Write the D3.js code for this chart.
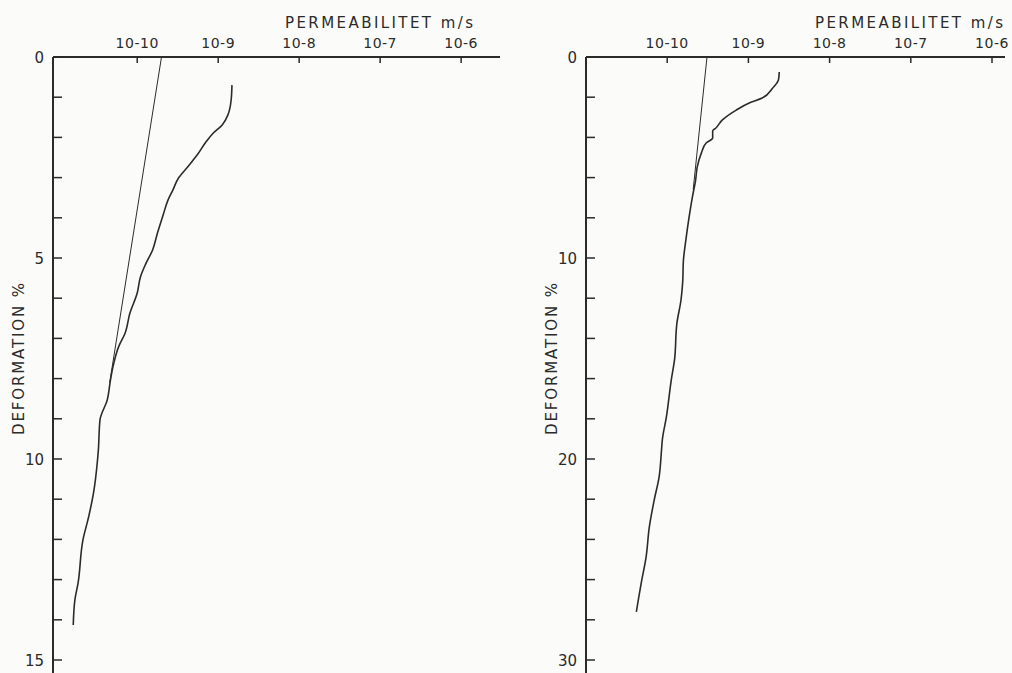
<!DOCTYPE html>
<html>
<head>
<meta charset="utf-8">
<script src="https://cdn.jsdelivr.net/npm/d3@7"></script>
<style>
  body { margin: 0; background: #fbfbf9; }
  svg { display: block; }
  text { font-family: "DejaVu Sans", sans-serif; fill: #2b2b2b; }
</style>
</head>
<body>
<svg></svg>
<script>
const width = 1012;
const height = 673;

// decade tick labels on the permeability axis
const permTicks = [-10, -9, -8, -7, -6];
const permLabels = ['10-10', '10-9', '10-8', '10-7', '10-6'];

// LEFT PANEL: deformation % and log10 permeability (m/s)
const leftDeform = [0.70, 1.07, 1.44, 1.69, 1.89, 2.14, 2.44, 2.74, 3.01, 3.31, 3.56, 3.93, 4.38, 4.80, 5.17, 5.47, 5.87, 6.37, 6.87, 7.21, 7.71, 8.03, 8.53, 9.03, 9.78, 10.02, 10.85, 11.44, 12.01, 13.08, 13.51, 14.13];
const leftPerm = [-8.83, -8.84, -8.88, -8.95, -9.06, -9.16, -9.26, -9.38, -9.49, -9.56, -9.62, -9.68, -9.75, -9.81, -9.90, -9.96, -10.00, -10.09, -10.15, -10.23, -10.30, -10.33, -10.37, -10.46, -10.48, -10.49, -10.54, -10.60, -10.67, -10.73, -10.77, -10.79];
const leftLineDeform = [0, 8.1];
const leftLinePerm = [-9.70, -10.34];
const leftYTicks = [0, 5, 10, 15];

// RIGHT PANEL
const rightDeform = [0.75, 1.14, 1.54, 2.04, 2.29, 2.64, 3.13, 3.53, 3.68, 4.03, 4.28, 4.78, 5.47, 6.12, 6.97, 7.96, 9.10, 10.10, 11.24, 12.09, 13.23, 15.07, 16.07, 17.91, 19.05, 19.55, 20.90, 22.04, 23.38, 24.88, 26.17, 26.87, 27.61];
const rightPerm = [-8.62, -8.63, -8.70, -8.83, -8.99, -9.15, -9.32, -9.40, -9.44, -9.44, -9.52, -9.58, -9.63, -9.65, -9.69, -9.73, -9.77, -9.80, -9.81, -9.83, -9.88, -9.91, -9.95, -10.01, -10.06, -10.07, -10.10, -10.16, -10.22, -10.26, -10.32, -10.35, -10.38];
const rightLineDeform = [0, 6.6];
const rightLinePerm = [-9.51, -9.68];
const rightYTicks = [0, 10, 20, 30];

const svg = d3.select('svg')
  .attr('width', width)
  .attr('height', height);

function drawPanel(opt) {
  const g = svg.append('g');
  const x = d3.scaleLog()
    .domain([Math.pow(10, opt.xMin), Math.pow(10, opt.xMax)])
    .range([opt.left, opt.right]);
  const y = d3.scaleLinear()
    .domain([0, opt.yMax])
    .range([opt.top, opt.top + 603]);

  // top axis
  g.append('line')
    .attr('x1', opt.left).attr('x2', opt.right)
    .attr('y1', opt.top).attr('y2', opt.top)
    .attr('stroke', '#2b2b2b').attr('stroke-width', 2);
  g.selectAll('.xt')
    .data(permTicks)
    .enter().append('line')
    .attr('x1', e => x(Math.pow(10, e))).attr('x2', e => x(Math.pow(10, e)))
    .attr('y1', opt.top).attr('y2', opt.top + 6)
    .attr('stroke', '#2b2b2b').attr('stroke-width', 1.5);
  g.selectAll('.xl')
    .data(permTicks)
    .enter().append('text')
    .attr('x', e => x(Math.pow(10, e)))
    .attr('y', opt.top - 9)
    .attr('text-anchor', 'middle')
    .attr('font-size', 14)
    .attr('letter-spacing', 0.5)
    .text((e, i) => permLabels[i]);
  g.append('text')
    .attr('x', opt.titleX)
    .attr('y', 28)
    .attr('font-size', 15)
    .attr('textLength', 188)
    .attr('lengthAdjust', 'spacing')
    .text('PERMEABILITET m/s');

  // left axis
  g.append('line')
    .attr('x1', opt.left).attr('x2', opt.left)
    .attr('y1', opt.top).attr('y2', height)
    .attr('stroke', '#2b2b2b').attr('stroke-width', 2);
  g.selectAll('.yt')
    .data(d3.range(0, opt.yMax + 0.01, opt.yStep))
    .enter().append('line')
    .attr('x1', opt.left).attr('x2', opt.left + 9)
    .attr('y1', d => y(d)).attr('y2', d => y(d))
    .attr('stroke', '#2b2b2b').attr('stroke-width', 1.5);
  g.selectAll('.yl')
    .data(opt.yTicks)
    .enter().append('text')
    .attr('x', opt.left - 9)
    .attr('y', d => y(d) + 5.5)
    .attr('text-anchor', 'end')
    .attr('font-size', 15)
    .text(d => d);
  g.append('text')
    .attr('transform', `translate(${opt.left - 29},${435}) rotate(-90)`)
    .attr('font-size', 15)
    .attr('textLength', 152)
    .attr('lengthAdjust', 'spacing')
    .text('DEFORMATION %');

  const line = d3.line()
    .x(d => x(Math.pow(10, d[1])))
    .y(d => y(d[0]))
    .curve(d3.curveMonotoneY);

  g.append('path')
    .datum(d3.zip(opt.lineDeform, opt.linePerm))
    .attr('d', d3.line().x(d => x(Math.pow(10, d[1]))).y(d => y(d[0])))
    .attr('fill', 'none').attr('stroke', '#2b2b2b').attr('stroke-width', 1);
  g.append('path')
    .datum(d3.zip(opt.deform, opt.perm))
    .attr('d', line)
    .attr('fill', 'none').attr('stroke', '#2b2b2b').attr('stroke-width', 1.6);
}

drawPanel({
  left: 53, right: 500, top: 57, xMin: -11.04, xMax: -5.52,
  yMax: 15, yStep: 1, yTicks: leftYTicks, titleX: 285,
  deform: leftDeform, perm: leftPerm,
  lineDeform: leftLineDeform, linePerm: leftLinePerm
});
drawPanel({
  left: 586, right: 1005, top: 57, xMin: -11.0, xMax: -5.84,
  yMax: 30, yStep: 2, yTicks: rightYTicks, titleX: 815,
  deform: rightDeform, perm: rightPerm,
  lineDeform: rightLineDeform, linePerm: rightLinePerm
});
</script>
</body>
</html>
